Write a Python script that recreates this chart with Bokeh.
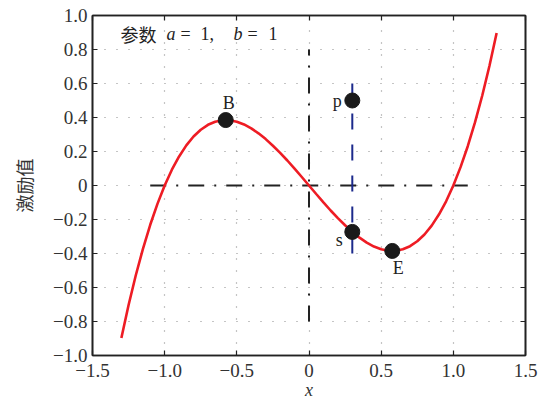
from bokeh.plotting import figure
from bokeh.models import Range1d, FixedTicker, LinearAxis, Label
from bokeh.embed import file_html
from bokeh.resources import INLINE

# ---- data ----
curve_x = [-1.30, -1.25, -1.20, -1.15, -1.10, -1.05, -1.00, -0.95, -0.90, -0.85,
           -0.80, -0.75, -0.70, -0.65, -0.60, -0.55, -0.50, -0.45, -0.40, -0.35,
           -0.30, -0.25, -0.20, -0.15, -0.10, -0.05, 0.00, 0.05, 0.10, 0.15,
           0.20, 0.25, 0.30, 0.35, 0.40, 0.45, 0.50, 0.55, 0.60, 0.65,
           0.70, 0.75, 0.80, 0.85, 0.90, 0.95, 1.00, 1.05, 1.10, 1.15,
           1.20, 1.25, 1.30]
curve_y = [-0.897, -0.703, -0.528, -0.371, -0.231, -0.108, 0.000, 0.093, 0.171, 0.236,
           0.288, 0.328, 0.357, 0.375, 0.384, 0.384, 0.375, 0.359, 0.336, 0.307,
           0.273, 0.234, 0.192, 0.147, 0.099, 0.050, 0.000, -0.050, -0.099, -0.147,
           -0.192, -0.234, -0.273, -0.307, -0.336, -0.359, -0.375, -0.384, -0.384, -0.375,
           -0.357, -0.328, -0.288, -0.236, -0.171, -0.093, 0.000, 0.108, 0.231, 0.371,
           0.528, 0.703, 0.897]

point_names = ["B", "p", "s", "E"]
point_x = [-0.577, 0.3, 0.3, 0.577]
point_y = [0.385, 0.5, -0.273, -0.385]

x_ticks = [-1.5, -1.0, -0.5, 0.0, 0.5, 1.0, 1.5]
x_tick_labels = ["\u22121.5", "\u22121.0", "\u22120.5", "0", "0.5", "1.0", "1.5"]
y_ticks = [-1.0, -0.8, -0.6, -0.4, -0.2, 0.0, 0.2, 0.4, 0.6, 0.8, 1.0]
y_tick_labels = ["\u22121.0", "\u22120.8", "\u22120.6", "\u22120.4", "\u22120.2", "0",
                 "0.2", "0.4", "0.6", "0.8", "1.0"]

h_axis_line_x = [-1.1, 1.1]
h_axis_line_y = [0.0, 0.0]
v_axis_line_x = [0.0, 0.0]
v_axis_line_y = [-0.8, 0.8]
blue_line_x = [0.3, 0.3]
blue_line_y = [-0.4, 0.6]

param_a = 1
param_b = 1
x_title = "x"
y_title = "激励值"

SERIF = "Liberation Serif"
CJK = "Noto Sans CJK SC"
INK = "#222222"

p = figure(width=552, height=403, output_backend="svg", toolbar_location=None,
           x_range=Range1d(-1.5, 1.5), y_range=Range1d(-1.0, 1.0),
           min_border_left=92, min_border_right=27, min_border_top=15, min_border_bottom=48)
p.background_fill_color = "white"
p.border_fill_color = "white"
p.outline_line_color = INK
p.outline_line_width = 1.6

for ax, ticks, labels in ((p.xaxis[0], x_ticks, x_tick_labels), (p.yaxis[0], y_ticks, y_tick_labels)):
    ax.ticker = FixedTicker(ticks=ticks)
    ax.major_label_overrides = {t: l for t, l in zip(ticks, labels)}
    ax.major_tick_in = 5
    ax.major_tick_out = 0
    ax.minor_tick_line_color = None
    ax.axis_line_color = INK
    ax.axis_line_width = 1.6
    ax.major_tick_line_color = INK
    ax.major_tick_line_width = 1.2
    ax.major_label_text_font = SERIF
    ax.major_label_text_font_size = "19px"
    ax.major_label_text_color = "#333333"

p.xaxis.axis_label = x_title
p.xaxis.axis_label_text_font = SERIF
p.xaxis.axis_label_text_font_style = "italic"
p.xaxis.axis_label_text_font_size = "18px"
p.xaxis.axis_label_text_color = "#333333"
p.xaxis.axis_label_standoff = 0
p.xaxis.major_label_standoff = 8

p.yaxis.axis_label = y_title
p.yaxis.axis_label_text_font = CJK
p.yaxis.axis_label_text_font_style = "normal"
p.yaxis.axis_label_text_font_size = "18px"
p.yaxis.axis_label_text_color = "#333333"
p.yaxis.axis_label_standoff = 13
p.yaxis.major_label_standoff = 5

for loc, ticks in (("above", x_ticks), ("right", y_ticks)):
    ax = LinearAxis(ticker=FixedTicker(ticks=ticks),
                    major_label_overrides={t: "" for t in ticks},
                    major_tick_in=5, major_tick_out=0, minor_tick_line_color=None,
                    axis_line_color=INK, axis_line_width=1.6,
                    major_tick_line_color=INK, major_tick_line_width=1.2,
                    major_label_standoff=0)
    p.add_layout(ax, loc)

p.grid.grid_line_color = "#8a8a8a"
p.grid.grid_line_width = 1.2
p.grid.grid_line_dash = "1 11"
for g, ticks in zip(p.grid, (x_ticks, y_ticks)):
    g.ticker = FixedTicker(ticks=ticks)

# dash-dot axes through origin
p.line(h_axis_line_x, h_axis_line_y, line_color=INK, line_width=2, line_dash="16 10 2 10")
p.line(v_axis_line_x, v_axis_line_y, line_color=INK, line_width=2, line_dash="16 10 2 10")
# blue dashed vertical
p.line(blue_line_x, blue_line_y, line_color="#1c2a8c", line_width=2, line_dash="16 15")

# curve
p.line(curve_x, curve_y, line_color="#ee1c24", line_width=2.6)

# points
p.scatter(point_x, point_y, size=15, fill_color="#1a1a1a", line_color="#1a1a1a")

offsets = {"B": (3, 17), "p": (-15, 0), "s": (-13, -8), "E": (6, -17)}
for name, x, y in zip(point_names, point_x, point_y):
    dx, dy = offsets[name]
    p.add_layout(Label(x=x, y=y, text=name, x_offset=dx, y_offset=dy,
                       text_align="center", text_baseline="middle",
                       text_font=SERIF, text_font_size="18px", text_color=INK))

# parameter annotation (anchored at the top-left of the frame)
ax0, ay0 = -1.5, 1.0
parts = [("参数", CJK, "normal", 28),
         ("a", SERIF, "italic", 74),
         ("=", SERIF, "normal", 88),
         (f"{param_a},", SERIF, "normal", 108),
         ("b", SERIF, "italic", 141),
         ("=", SERIF, "normal", 155),
         (f"{param_b}", SERIF, "normal", 176)]
for txt, font, style, dx in parts:
    p.add_layout(Label(x=ax0, y=ay0, x_offset=dx, y_offset=-18, text=txt,
                       text_font=font, text_font_style=style, text_font_size="18px",
                       text_align="left", text_baseline="middle", text_color=INK))

open("out.html", "w").write(file_html(p, INLINE))
